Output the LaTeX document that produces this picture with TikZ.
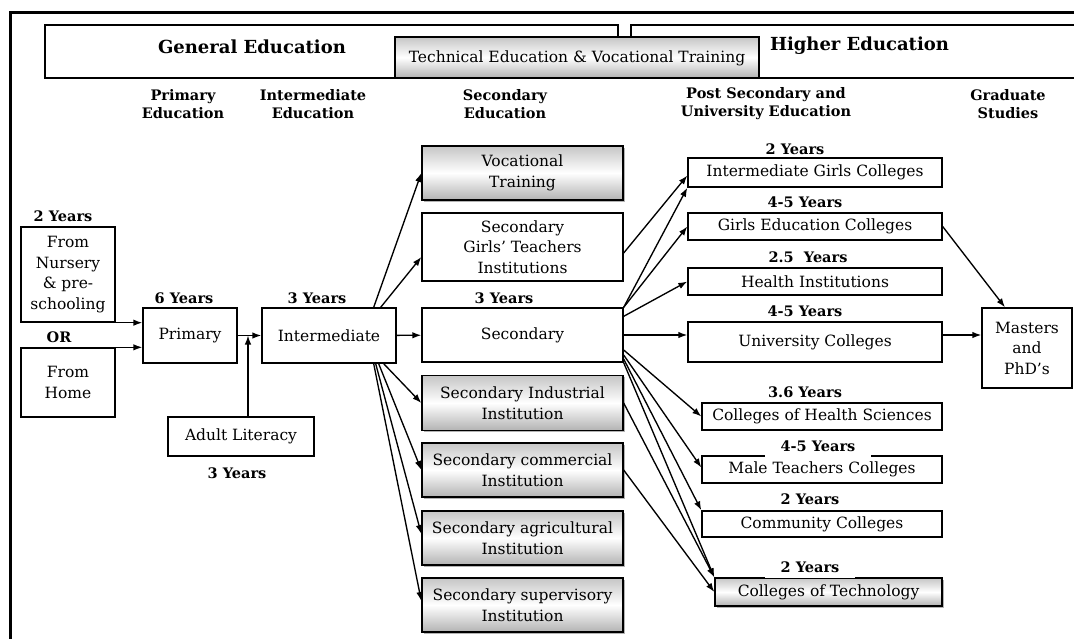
\documentclass[tikz,border=0pt]{standalone}
\usepackage{fontspec}
\setmainfont{DejaVu Serif}
\usetikzlibrary{arrows.meta,shadows}

\begin{document}
\begin{tikzpicture}[x=1pt,y=-1pt,line width=1.35pt,
	>={Latex[length=9pt,width=6.5pt]},
	box/.style={draw,align=center,inner sep=2pt,font=\fontsize{15.5}{20.5}\selectfont},
	greybox/.style={box,top color=gray!45,bottom color=gray!60,middle color=white,
		drop shadow={shadow xshift=1.5pt,shadow yshift=-1.5pt,opacity=.6}},
	yrs/.style={font=\fontsize{14.5}{17}\selectfont\bfseries,inner sep=1pt},
	gaplabel/.style={yrs,fill=white,inner xsep=16pt,inner ysep=6pt},
	head/.style={font=\fontsize{14.5}{18}\selectfont\bfseries,align=center},
	band/.style={font=\fontsize{18}{21}\selectfont\bfseries}]
					\useasboundingbox (0,0) rectangle (1074,638);
					\draw[line width=3pt] (10,645) -- (10,12) -- (1080,12);
					% header bands
					\draw (45,25) rectangle (618,78);
					\draw (631,25) rectangle (1080,78);
					\draw[top color=gray!45,bottom color=gray!60,middle color=white] (395,37) rectangle (759,78);
					\node[band] (general) at (252,47) {General Education};
					\node[font=\fontsize{15.5}{18}\selectfont] (technical) at (577,58) {Technical Education \& Vocational Training};
					\node[band,anchor=west] (higher) at (766,46) {Higher Education};
					\node[head] (hprimary) at (183,104) {Primary\\Education};
					\node[head] (hinter) at (313,104) {Intermediate\\Education};
					\node[head] (hsecond) at (505,104) {Secondary\\Education};
					\node[head] (hpost) at (766,104) {Post Secondary and\\University Education};
					\node[head] (hgrad) at (1008,104) {Graduate\\Studies};
					% left part
					\node[box,minimum width=94pt,minimum height=95pt] (nursery) at (68,274.5) {From\\Nursery\\\& pre-\\schooling};
					\node[box,minimum width=94pt,minimum height=69pt] (home) at (68,382.5) {From\\Home};
					\node[box,minimum width=94pt,minimum height=55pt] (primary) at (190,335.5) {Primary};
					\node[box,minimum width=134pt,minimum height=55pt] (inter) at (329,335.5) {Intermediate};
					\node[box,minimum width=146pt,minimum height=39pt] (adult) at (241,436.5) {Adult Literacy};
					\node[yrs] (ynursery) at (63,216) {2 Years};
					\node[yrs] (yor) at (59,337) {OR};
					\node[yrs] (yprimary) at (184,298) {6 Years};
					\node[yrs] (yinter) at (317,298) {3 Years};
					\node[yrs] (yadult) at (237,473) {3 Years};
					% secondary column
					\node[greybox,minimum width=201pt,minimum height=54pt] (voc) at (522.5,173) {Vocational\\Training};
					\node[box,minimum width=201pt,minimum height=68pt] (girls) at (522.5,247) {Secondary\\Girls’ Teachers\\Institutions};
					\node[box,minimum width=201pt,minimum height=54pt] (second) at (522.5,335) {Secondary};
					\node[greybox,minimum width=201pt,minimum height=55pt] (indus) at (522.5,403) {Secondary Industrial\\Institution};
					\node[greybox,minimum width=201pt,minimum height=54pt] (commerc) at (522.5,470) {Secondary commercial\\Institution};
					\node[greybox,minimum width=201pt,minimum height=54pt] (agri) at (522.5,538) {Secondary agricultural\\Institution};
					\node[greybox,minimum width=201pt,minimum height=54pt] (superv) at (522.5,605) {Secondary supervisory\\Institution};
					\node[yrs] (ysecond) at (504,298) {3 Years};
					% post secondary column
					\node[box,minimum width=254pt,minimum height=29pt] (igc) at (815,172.5) {Intermediate Girls Colleges};
					\node[box,minimum width=254pt,minimum height=27pt] (gec) at (815,226.5) {Girls Education Colleges};
					\node[box,minimum width=254pt,minimum height=27pt] (hi) at (815,281.5) {Health Institutions};
					\node[box,minimum width=254pt,minimum height=40pt] (uc) at (815,342) {University Colleges};
					\node[box,minimum width=240pt,minimum height=27pt] (chs) at (822,416.5) {Colleges of Health Sciences};
					\node[box,minimum width=240pt,minimum height=27pt] (mtc) at (822,469.5) {Male Teachers Colleges};
					\node[box,minimum width=240pt,minimum height=26pt] (cc) at (822,524) {Community Colleges};
					\node[greybox,minimum width=227pt,minimum height=28pt] (ct) at (828.5,592) {Colleges of Technology};
					\node[box,minimum width=90pt,minimum height=80pt] (masters) at (1027,348) {Masters\\and\\PhD’s};
					\node[yrs] (yigc) at (795,149) {2 Years};
					\node[yrs] (ygec) at (805,202) {4-5 Years};
					\node[yrs] (yhi) at (808,257) {2.5~~Years};
					\node[yrs] (yuc) at (805,311) {4-5 Years};
					\node[yrs] (ychs) at (805,392) {3.6 Years};
					\node[gaplabel] (ymtc) at (818,446) {4-5 Years};
					\node[gaplabel] (ycc) at (810,499) {2 Years};
					\node[gaplabel] (yct) at (810,567) {2 Years};
					% arrows
					\draw[->] (nursery.south east) to (nursery.south east -| primary.west);
					\draw[->] (home.north east) to (home.north east -| primary.west);
					\draw[->] (primary) to (inter);
					\draw[->] ([xshift=7pt]adult.north) to ([xshift=7pt]adult.north |- primary.east);
					\draw[->] (inter) to (second);
					\draw[->] ([xshift=-23pt]inter.north east) to (voc.west);
					\draw[->] ([xshift=-16pt]inter.north east) to ([yshift=-10pt]girls.west);
					\draw[->] ([xshift=-13pt]inter.south east) to (indus.west);
					\draw[->] ([xshift=-18pt]inter.south east) to (commerc.west);
					\draw[->] ([xshift=-21pt]inter.south east) to ([yshift=4pt]agri.west);
					\draw[->] ([xshift=-23pt]inter.south east) to ([yshift=4pt]superv.west);
					\draw[->] ([yshift=-6pt]girls.east) to ([yshift=-3pt]igc.west);
					\draw[->] (second.north east) to (igc.south west);
					\draw[->] (second.north east) to (gec.west);
					\draw[->] ([yshift=-9pt]second.north east) to (hi.west);
					\draw[->] (second.east) to (second.east -| uc.west);
					\draw[->] ([yshift=-15pt]second.east) to (chs.west);
					\draw[->] ([yshift=-20pt]second.east) to ([yshift=2pt]mtc.west);
					\draw[->] ([yshift=-24pt]second.east) to (cc.north west);
					\draw[->] (second.south east) to (ct.north west);
					\draw[->] (indus.east) to (ct.north west);
					\draw[->] (commerc.east) to (ct.west);
					\draw[->] (gec.east) to ([xshift=-22pt]masters.north);
					\draw[->] ([yshift=7pt]uc.east) to ([yshift=7pt]uc.east -| masters.west);
				\end{tikzpicture}
\end{document}
